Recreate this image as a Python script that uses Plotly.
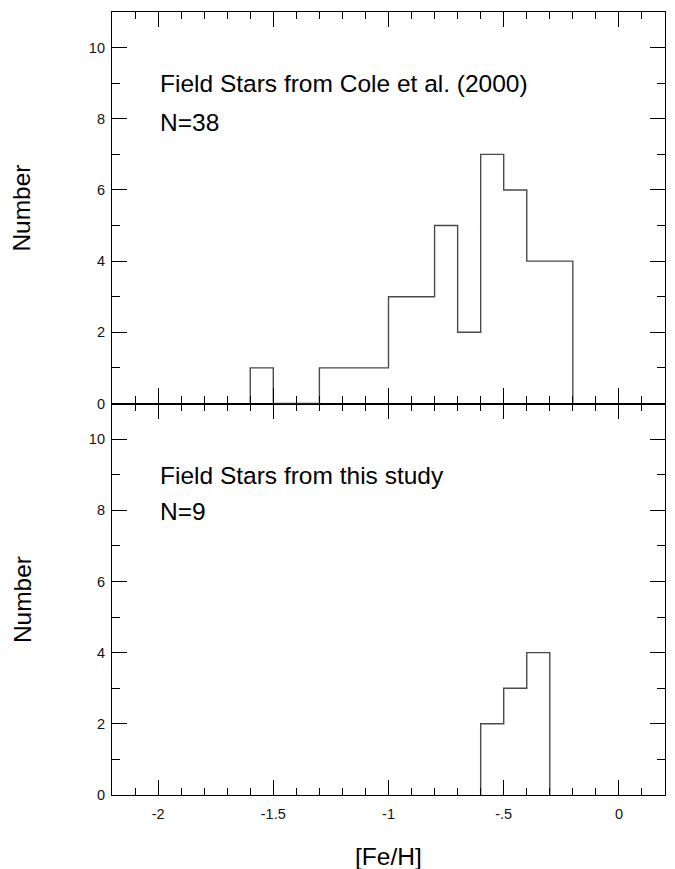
import plotly.graph_objects as go

# Metallicity bins (width 0.1 dex): left edges and counts
cole_edges = [-1.6, -1.5, -1.4, -1.3, -1.2, -1.1, -1.0, -0.9, -0.8, -0.7, -0.6, -0.5, -0.4, -0.3, -0.2]
cole_counts = [1, 0, 0, 1, 1, 1, 3, 3, 5, 2, 7, 6, 4, 4]

study_edges = [-0.6, -0.5, -0.4, -0.3]
study_counts = [2, 3, 4]

x_tickvals = [-2, -1.5, -1, -0.5, 0]
x_ticktext = ["-2", "-1.5", "-1", "-.5", "0"]
y_tickvals = [0, 2, 4, 6, 8, 10]
y_ticktext = ["0", "2", "4", "6", "8", "10"]

FONT = "Liberation Sans, Arial, sans-serif"
LINE = "#4a4a4a"


def step_outline(edges, counts):
    xs = [edges[0]] + list(edges)
    ys = [0] + list(counts) + [0]
    return xs, ys


fig = go.Figure()

cx, cy = step_outline(cole_edges, cole_counts)
fig.add_trace(go.Scatter(x=cx, y=cy, mode="lines", line=dict(shape="hv", color=LINE, width=1.4),
                         xaxis="x2", yaxis="y2", showlegend=False, hoverinfo="skip"))

sx, sy = step_outline(study_edges, study_counts)
fig.add_trace(go.Scatter(x=sx, y=sy, mode="lines", line=dict(shape="hv", color=LINE, width=1.4),
                         xaxis="x", yaxis="y", showlegend=False, hoverinfo="skip"))

tick_font = dict(family=FONT, size=14.5, color="#111111")

common_x = dict(
    range=[-2.2, 0.2], showgrid=False, zeroline=False, showline=True, linecolor="black", linewidth=1.2,
    mirror="allticks", ticks="inside", ticklen=15, tickwidth=1.1, tickcolor="black",
    tickvals=x_tickvals, ticktext=x_ticktext,
    minor=dict(dtick=0.1, tick0=0, ticks="inside", ticklen=7, tickwidth=1, tickcolor="black"),
    tickfont=tick_font,
)
common_y = dict(
    range=[0, 11], showgrid=False, zeroline=False, showline=True, linecolor="black", linewidth=1.2,
    mirror="allticks", ticks="inside", ticklen=15, tickwidth=1.1, tickcolor="black",
    tickvals=y_tickvals, ticktext=y_ticktext,
    minor=dict(dtick=1, tick0=0, ticks="inside", ticklen=8, tickwidth=1, tickcolor="black"),
    tickfont=tick_font, ticklabelstandoff=3,
)

fig.update_layout(
    width=675, height=869,
    margin=dict(l=112, r=10, t=12, b=74),
    paper_bgcolor="white", plot_bgcolor="white",
    xaxis=dict(common_x, anchor="y", ticklabelstandoff=5),
    yaxis=dict(common_y, domain=[0, 0.5], anchor="x"),
    xaxis2=dict(common_x, anchor="y2", matches="x", showticklabels=False),
    yaxis2=dict(common_y, domain=[0.5, 1], anchor="x2"),
)

big = dict(family=FONT, size=24.5, color="black")
annotations = [
    dict(text="Field Stars from Cole et al. (2000)", x=-2.0, y=8.98, xref="x2", yref="y2"),
    dict(text="N=38", x=-2.0, y=7.9, xref="x2", yref="y2"),
    dict(text="Field Stars from this study", x=-2.0, y=8.98, xref="x", yref="y"),
    dict(text="N=9", x=-2.0, y=7.97, xref="x", yref="y"),
]
for a in annotations:
    fig.add_annotation(a, showarrow=False, xanchor="left", yanchor="middle", font=big)

# Axis titles
fig.add_annotation(text="[Fe/H]", x=0.5, y=-0.079, xref="paper", yref="paper",
                   showarrow=False, xanchor="center", yanchor="middle", font=big)
for yc in (0.75, 0.25):
    fig.add_annotation(text="Number", x=-0.163, y=yc, xref="paper", yref="paper", textangle=-90,
                       showarrow=False, xanchor="center", yanchor="middle", font=big)

fig.write_html("out.html")
